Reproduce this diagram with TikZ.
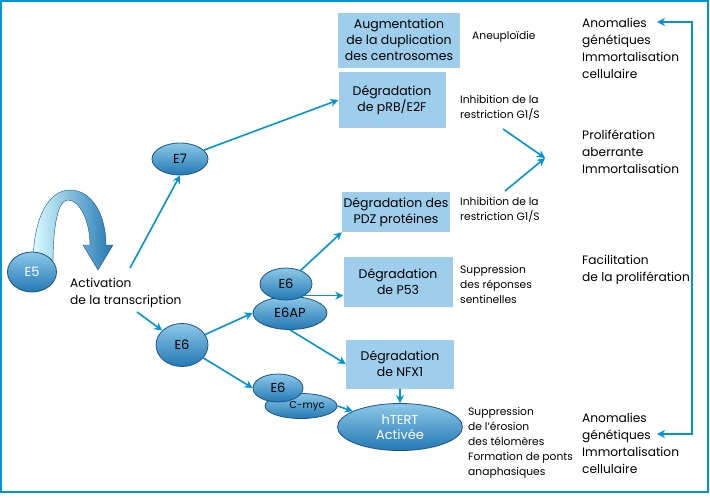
\documentclass[tikz,border=0pt]{standalone}
\usepackage{fontspec}
\setmainfont{Poppins}
\usetikzlibrary{shapes,arrows,arrows.meta,calc,positioning}
\definecolor{lineblue}{RGB}{0,150,214}
\definecolor{boxblue}{RGB}{158,206,236}
\definecolor{ovaltop}{RGB}{140,200,232}
\definecolor{ovalbot}{RGB}{35,120,180}
\definecolor{ovalline}{RGB}{25,85,135}
\tikzstyle{arrow} = [line width=1.6pt, ->, >={Stealth[length=8pt,width=8pt,inset=2.5pt]}, lineblue]
\tikzstyle{box} = [fill=boxblue, align=center, inner sep=0pt, font=\fontsize{12.5}{16}\selectfont]
\tikzstyle{oval} = [ellipse, draw=ovalline, thick, top color=ovaltop, bottom color=ovalbot, inner sep=0pt, font=\fontsize{13}{15}\selectfont]
\tikzstyle{bigtext} = [align=left, anchor=west, inner sep=0pt, font=\fontsize{12.2}{17}\selectfont]
\tikzstyle{smalltext} = [align=left, anchor=west, inner sep=0pt, font=\fontsize{10.7}{15}\selectfont]

\begin{document}
\begin{tikzpicture}[x=1pt,y=-1pt]
\useasboundingbox (0,0) rectangle (710,498);
\draw[lineblue, line width=1.5pt] (1,1) rectangle (708,492);

% curved arrow above E5
\shade[left color=blue!8!cyan!15, right color=ovalbot, draw=ovalline, thin]
  (33,265) .. controls (33,215) and (50,190) .. (70,190)
  .. controls (92,190) and (106,215) .. (106,245)
  -- (113,245) -- (98,270) -- (83,245) -- (90,245)
  .. controls (90,222) and (80,200) .. (68,200)
  .. controls (58,200) and (53,225) .. (53,265) -- cycle;

% ovals
\node[oval, minimum width=49, minimum height=40, text=white] (e5) at (32,272) {E5};
\node[oval, minimum width=56, minimum height=32] (e7) at (180,159) {E7};
\node[oval, minimum width=52, minimum height=43] (e6) at (182,345) {E6};
\node[oval, minimum width=74, minimum height=33] (e6ap) at (290,313) {E6AP};
\node[oval, minimum width=52, minimum height=32] (e6up) at (286,284) {E6};
\node[oval, minimum width=72, minimum height=25, font=\fontsize{10}{12}\selectfont] (cmyc) at (301,406) {\hspace{12pt}\raisebox{-3pt}{C-myc}};
\node[oval, minimum width=50, minimum height=28] (e6low) at (278,388) {E6};
\node[oval, minimum width=125, minimum height=47, text=white, align=center] (htert) at (400,427) {hTERT\\Activée};

% boxes
\foreach \name/\pos/\w/\h/\txt in {
  aug/{(399,40)}/122/55/{Augmentation\\de la duplication\\des centrosomes},
  prb/{(392,100)}/107/56/{Dégradation\\de pRB/E2F},
  pdz/{(396,212)}/108/40/{Dégradation des\\PDZ protéines},
  p53/{(398,282)}/109/50/{Dégradation\\de P53},
  nfx/{(400,364)}/108/49/{Dégradation\\de NFX1}} {
\node[box, minimum width=\w, minimum height=\h] (\name) at \pos {\txt}; }

% texts
\node[bigtext] (act) at (70,293) {Activation\\de la transcription};
\node[smalltext] (aneu) at (472,37) {Aneuploïdie};
\node[smalltext] (inh1) at (460,108) {Inhibition de la\\restriction G1/S};
\node[smalltext] (inh2) at (460,210) {Inhibition de la\\restriction G1/S};
\node[smalltext] (supp1) at (460,284) {Suppression\\des réponses\\sentinelles};
\node[smalltext] (supp2) at (468,443) {Suppression\\de l’érosion\\des télomères\\Formation de ponts\\anaphasiques};
\node[bigtext] (anom1) at (582,48) {Anomalies\\génétiques\\Immortalisation\\cellulaire};
\node[bigtext] (prolif) at (582,152) {Prolifération\\aberrante\\Immortalisation};
\node[bigtext] (facil) at (582,270) {Facilitation\\de la prolifération};
\node[bigtext] (anom2) at (582,443) {Anomalies\\génétiques\\Immortalisation\\cellulaire};

\coordinate (actup) at (130,268);
\coordinate (actdown) at (137,312);
\coordinate (inh1end) at (503,129);
\coordinate (inh2end) at (505,191);
\coordinate (conv) at (545,158);
\coordinate (anomtop) at (657,22);
\coordinate (anombot) at (657,434);

% connectors
\draw[arrow] (actup) -- (e7.south);
\draw[arrow] (actdown) -- (e6);
\draw[arrow] (e7) -- (prb.west);
\draw[arrow] (e6) -- (e6ap.west);
\draw[arrow] (e6) -- (e6low.west);
\draw[arrow] (e6up) -- (pdz.south west);
\draw[arrow] (e6up.south east) -- (p53.west |- e6up.south east);
\draw[arrow] (e6ap.south) -- (nfx.west);
\draw[arrow] (cmyc.east) -- (htert);
\draw[arrow] (nfx.south) -- (htert.north);
\draw[arrow] (inh1end) -- (conv);
\draw[arrow] (inh2end) -- (conv);
\draw[arrow, <->] (anomtop) -- ++(35,0) |- (anombot);

\end{tikzpicture}
\end{document}
